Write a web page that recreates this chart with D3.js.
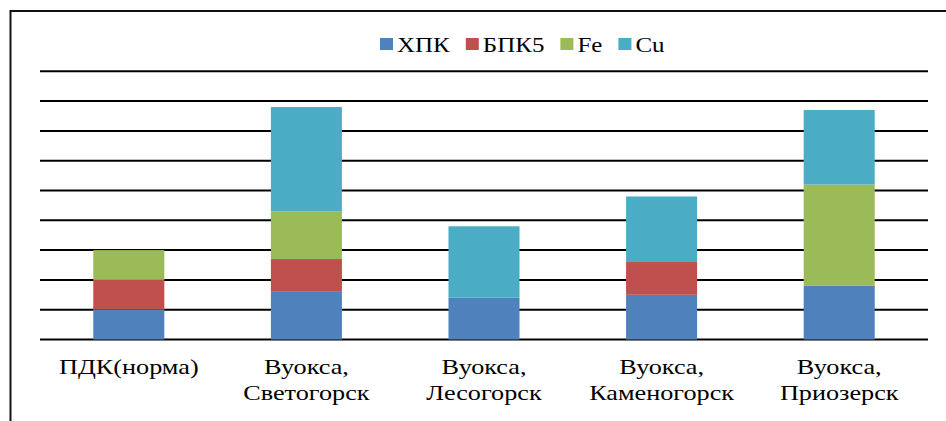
<!DOCTYPE html>
<html>
<head>
<meta charset="utf-8">
<script src="https://cdn.jsdelivr.net/npm/d3@7"></script>
<style>
  html, body { margin: 0; padding: 0; background: #fff; }
  svg { display: block; }
  .serif { font-family: "Liberation Serif", Tinos, "Times New Roman", Times, serif; }
</style>
</head>
<body>
<svg id="chart" width="946" height="421"></svg>
<script>
// Stacked water-quality indicators by sampling site
const categories = [
  ["ПДК(норма)"],
  ["Вуокса,", "Светогорск"],
  ["Вуокса,", "Лесогорск"],
  ["Вуокса,", "Каменогорск"],
  ["Вуокса,", "Приозерск"]
];
const seriesNames = ["ХПК", "БПК5", "Fe", "Cu"];
const seriesColors = ["#4F81BD", "#C0504D", "#9BBB59", "#4BACC6"];
const valuesXPK  = [1.0, 1.6, 1.4, 1.5, 1.8];
const valuesBPK5 = [1.0, 1.1, 0.0, 1.1, 0.0];
const valuesFe   = [1.0, 1.6, 0.0, 0.0, 3.4];
const valuesCu   = [0.0, 3.5, 2.4, 2.2, 2.5];
const gridTicks  = [0, 1, 2, 3, 4, 5, 6, 7, 8, 9];

const seriesValues = [valuesXPK, valuesBPK5, valuesFe, valuesCu];
const rows = categories.map((c, i) => {
  const r = { key: i };
  seriesNames.forEach((s, j) => { r[s] = seriesValues[j][i]; });
  return r;
});

const svg = d3.select("#chart");
const plot = { left: 40, right: 928, top: 71.3, bottom: 339.5 };
const stretch = 1.22;   // horizontal stretch of all lettering

const x = d3.scaleBand()
  .domain(rows.map(r => r.key))
  .range([plot.left, plot.right])
  .padding(0);
const y = d3.scaleLinear().domain([0, 9]).range([plot.bottom, plot.top]);
const barW = x.bandwidth() * 0.4;

// outer frame (top and left edges visible)
svg.append("path")
  .attr("d", "M10.5,421 L10.5,11 L946,11")
  .attr("fill", "none")
  .attr("stroke", "#111")
  .attr("stroke-width", 2);

// horizontal gridlines
svg.append("g")
  .selectAll("line")
  .data(gridTicks)
  .join("line")
  .attr("x1", plot.left)
  .attr("x2", plot.right)
  .attr("y1", d => y(d))
  .attr("y2", d => y(d))
  .attr("stroke", "#000")
  .attr("stroke-width", 2);

// stacked bars
const stack = d3.stack().keys(seriesNames)(rows);
svg.append("g")
  .selectAll("g")
  .data(stack)
  .join("g")
  .attr("fill", (d, i) => seriesColors[i])
  .selectAll("rect")
  .data(d => d.filter(p => p[1] - p[0] > 0))
  .join("rect")
  .attr("x", d => x(d.data.key) + (x.bandwidth() - barW) / 2)
  .attr("width", barW)
  .attr("y", d => y(d[1]))
  .attr("height", d => y(d[0]) - y(d[1]));

// category labels
const labels = svg.append("g")
  .attr("class", "serif")
  .attr("font-size", 21.5)
  .attr("fill", "#000");
categories.forEach((lines, i) => {
  const cx = x(i) + x.bandwidth() / 2;
  lines.forEach((t, k) => {
    labels.append("text")
      .attr("class", "serif")
      .attr("transform", `translate(${cx},${374 + k * 26}) scale(${stretch},1)`)
      .attr("text-anchor", "middle")
      .style("font-family", "'Liberation Serif', serif")
      .text(t);
  });
});

// legend
const legend = svg.append("g")
  .attr("font-size", 20.5)
  .attr("fill", "#000");
let lx = 380;
seriesNames.forEach((name, i) => {
  legend.append("rect")
    .attr("x", lx).attr("y", 38)
    .attr("width", 13).attr("height", 12)
    .attr("fill", seriesColors[i]);
  const t = legend.append("text")
    .attr("transform", `translate(${lx + 17},51.5) scale(${stretch},1)`)
    .style("font-family", "'Liberation Serif', serif")
    .text(name);
  const w = t.node().getComputedTextLength() * stretch;
  lx += 17 + w + 16;
});
</script>
</body>
</html>
